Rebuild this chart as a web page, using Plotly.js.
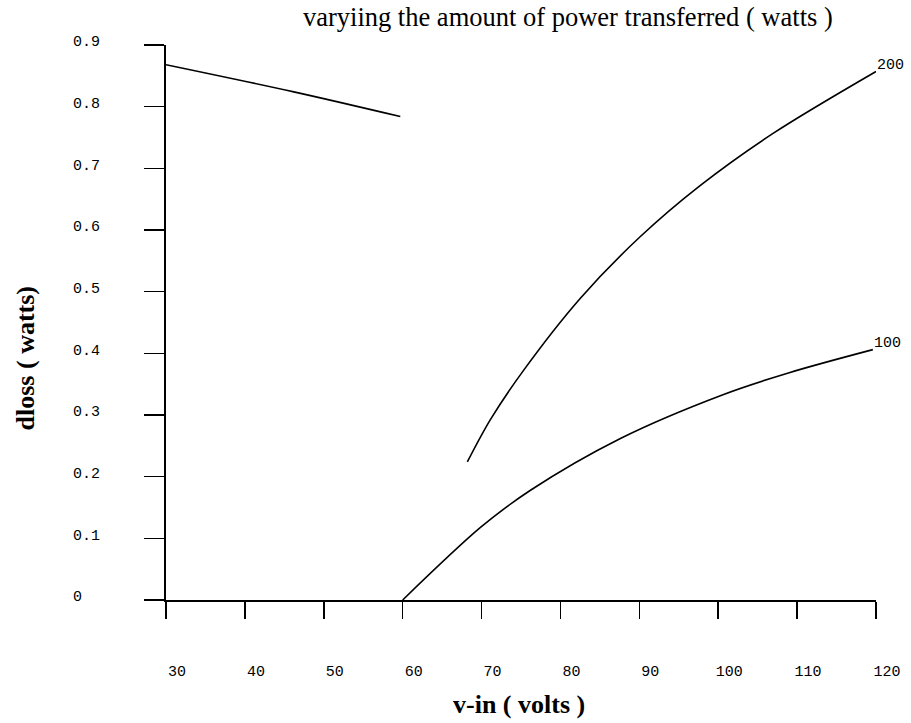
<!DOCTYPE html>
<html>
<head>
<meta charset="utf-8">
<script src="https://cdn.plot.ly/plotly-3.0.1.min.js"></script>
<style>html,body{margin:0;padding:0;background:#fff;}</style>
</head>
<body>
<div id="chart" style="width:911px;height:723px;"></div>
<script>
// ---- data ----
var vinTop   = [30, 46.2, 59.7];
var dlossTop = [0.868, 0.824, 0.784];

var vin100   = [60, 69.9, 76.2, 87.6, 100.6, 109.1, 119.6];
var dloss100 = [0, 0.118, 0.178, 0.262, 0.333, 0.369, 0.406];

var vin200   = [68.2, 71.1, 75.3, 82.5, 90.1, 97.7, 107, 120];
var dloss200 = [0.224, 0.292, 0.372, 0.489, 0.589, 0.672, 0.757, 0.857];

var seriesNames = ['', '100', '200'];

var xTickVals = [30, 40, 50, 60, 70, 80, 90, 100, 110, 120];
var xTickText = ['30', '40', '50', '60', '70', '80', '90', '100', '110', '120'];
var yTickVals = [0, 0.1, 0.2, 0.3, 0.4, 0.5, 0.6, 0.7, 0.8, 0.9];
var yTickText = ['0\u00a0\u00a0', '0.1', '0.2', '0.3', '0.4', '0.5', '0.6', '0.7', '0.8', '0.9'];

var titleText = 'varyiing the amount of power transferred ( watts )';
var xTitle = 'v-in ( volts )';
var yTitle = 'dloss ( watts)';

// ---- drawing ----
var lineStyle = {color: '#000', width: 1.6, shape: 'spline', smoothing: 0.9};
var traces = [
  {x: vinTop, y: dlossTop, mode: 'lines', line: lineStyle, name: seriesNames[0], hoverinfo: 'skip'},
  {x: vin100, y: dloss100, mode: 'lines', line: lineStyle, name: seriesNames[1]},
  {x: vin200, y: dloss200, mode: 'lines', line: lineStyle, name: seriesNames[2]}
];

var monoFont = {family: 'Liberation Mono, DejaVu Sans Mono, monospace', size: 15, color: '#000'};
var serifFont = {family: 'Liberation Serif, Times New Roman, serif', size: 26, color: '#000'};
var titleFont = {family: 'Liberation Serif, Times New Roman, serif', size: 26.5, color: '#000'};

var layout = {
  width: 911, height: 723,
  margin: {l: 166, r: 35, t: 45, b: 123},
  paper_bgcolor: '#fff', plot_bgcolor: '#fff',
  showlegend: false,
  title: {
    text: titleText,
    font: titleFont,
    xref: 'paper', x: 0.566, xanchor: 'center',
    yref: 'container', y: 0.977, yanchor: 'middle'
  },
  xaxis: {
    range: [30, 120], showgrid: false, zeroline: false,
    showline: true, linecolor: '#000', linewidth: 1.5,
    ticks: 'outside', ticklen: 17, tickwidth: 1.5, tickcolor: '#000',
    tickvals: xTickVals, ticktext: xTickText,
    tickfont: monoFont, ticklabelstandoff: 39, ticklabelshift: 11
  },
  yaxis: {
    range: [0, 0.9], showgrid: false, zeroline: false,
    showline: true, linecolor: '#000', linewidth: 2,
    ticks: 'outside', ticklen: 20, tickwidth: 1.5, tickcolor: '#000',
    tickvals: yTickVals, ticktext: yTickText,
    tickfont: monoFont, ticklabelstandoff: 41, ticklabelshift: -4
  },
  annotations: [
    {xref: 'paper', yref: 'paper', x: 0.497, y: -0.189, text: '<b>' + xTitle + '</b>',
     showarrow: false, xanchor: 'center', yanchor: 'middle', font: serifFont},
    {xref: 'paper', yref: 'paper', x: -0.198, y: 0.436, text: '<b>' + yTitle + '</b>',
     showarrow: false, xanchor: 'center', yanchor: 'middle', textangle: -90, font: serifFont},
    {x: vin100[vin100.length - 1], y: dloss100[dloss100.length - 1], text: seriesNames[1],
     showarrow: false, xanchor: 'left', yanchor: 'middle', yshift: 6, xshift: -1, font: monoFont},
    {x: vin200[vin200.length - 1], y: dloss200[dloss200.length - 1], text: seriesNames[2],
     showarrow: false, xanchor: 'left', yanchor: 'middle', yshift: 6, xshift: -1, font: monoFont}
  ]
};

Plotly.newPlot('chart', traces, layout, {displayModeBar: false, staticPlot: true});
</script>
</body>
</html>
